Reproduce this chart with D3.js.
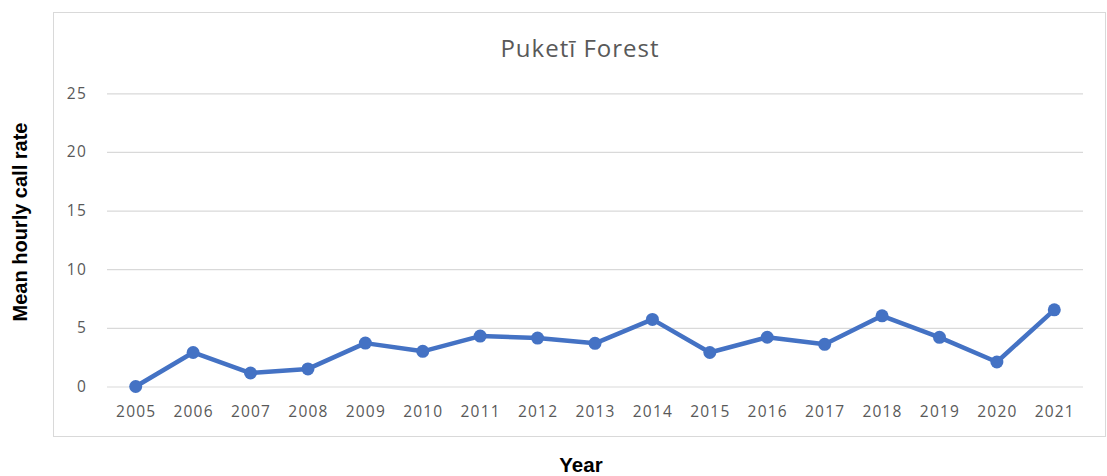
<!DOCTYPE html>
<html><head><meta charset="utf-8">
<script src="https://cdn.jsdelivr.net/npm/d3@7/dist/d3.min.js"></script>
<style>body{margin:0;background:#fff;}svg{display:block;}</style>
</head><body>
<svg id="c" width="1107" height="476"></svg>
<script>
const years = ["2005","2006","2007","2008","2009","2010","2011","2012","2013","2014","2015","2016","2017","2018","2019","2020","2021"];
const callRate = [0, 2.9, 1.15, 1.5, 3.7, 3.0, 4.3, 4.13, 3.68, 5.72, 2.9, 4.2, 3.6, 6.03, 4.19, 2.09, 6.54];
const yTicks = [0, 5, 10, 15, 20, 25];
const title = "Puketī Forest";
const yLabel = "Mean hourly call rate";
const xLabel = "Year";

(function(){
const svg = d3.select("#c");
const pl = 107, pr = 1083, pt = 93.3, pb = 386.5;
const x = d3.scalePoint().domain(years).range([pl, pr]).padding(0.5);
const y = d3.scaleLinear().domain([0, 25]).range([pb, pt]);

svg.append("rect").attr("x", 53.5).attr("y", 12.5).attr("width", 1052).attr("height", 424)
  .attr("fill", "#fff").attr("stroke", "#d9d9d9").attr("stroke-width", 1);

svg.append("text").attr("x", 580).attr("y", 57).attr("text-anchor", "middle")
  .attr("font-family", "Open Sans, sans-serif").attr("font-size", 24).attr("letter-spacing", 1)
  .attr("fill", "#595959").text(title);

const ya = svg.append("g").attr("transform", `translate(${pl},0)`)
  .call(d3.axisLeft(y).tickValues(yTicks).tickSize(-(pr-pl)).tickPadding(20));
ya.select(".domain").remove();
ya.selectAll(".tick line").attr("stroke", "#d9d9d9").attr("stroke-width", 1.2);
ya.selectAll(".tick text").attr("font-family", "Open Sans, sans-serif").attr("font-size", 15.5)
  .attr("letter-spacing", 1.2).attr("fill", "#595959");

const xa = svg.append("g").attr("transform", `translate(0,${pb})`)
  .call(d3.axisBottom(x).tickSize(0).tickPadding(19));
xa.select(".domain").remove();
xa.selectAll(".tick text").attr("font-family", "Open Sans, sans-serif").attr("font-size", 15.5)
  .attr("letter-spacing", 1.2).attr("fill", "#595959");

const data = years.map((yr, i) => ({yr, v: callRate[i]}));
svg.append("path").datum(data)
  .attr("fill", "none").attr("stroke", "#4472C4").attr("stroke-width", 4.5).attr("stroke-linejoin", "round")
  .attr("d", d3.line().x(d => x(d.yr)).y(d => y(d.v)));
svg.selectAll("circle.pt").data(data).enter().append("circle").attr("class", "pt")
  .attr("cx", d => x(d.yr)).attr("cy", d => y(d.v)).attr("r", 6.5).attr("fill", "#4472C4");

svg.append("text").attr("transform", "translate(27,222) rotate(-90)").attr("text-anchor", "middle")
  .attr("font-family", "Liberation Sans, Arial, sans-serif").attr("font-weight", "bold").attr("font-size", 20)
  .attr("fill", "#000").text(yLabel);
svg.append("text").attr("x", 581).attr("y", 472).attr("text-anchor", "middle")
  .attr("font-family", "Liberation Sans, Arial, sans-serif").attr("font-weight", "bold").attr("font-size", 20.5)
  .attr("fill", "#000").text(xLabel);
})();
</script>
</body></html>
